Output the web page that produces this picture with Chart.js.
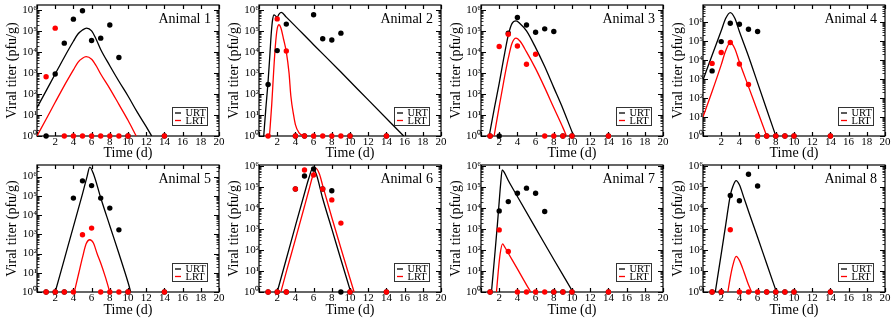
<!DOCTYPE html>
<html>
<head>
<meta charset="utf-8">
<script src="https://cdn.jsdelivr.net/npm/chart.js@4.4.1/dist/chart.umd.min.js"></script>
<style>
  html, body { margin: 0; padding: 0; background: #fff; }
  body { width: 891px; height: 320px; position: relative; overflow: hidden; }
  canvas { position: absolute; }
</style>
</head>
<body>
<script>
// sampling days (same for every animal)
const days = [1, 2, 3, 4, 5, 6, 7, 8, 9, 10, 14];
const yDecades = [0, 1, 2, 3, 4, 5, 6];
const animalNames = ['Animal 1', 'Animal 2', 'Animal 3', 'Animal 4', 'Animal 5', 'Animal 6', 'Animal 7', 'Animal 8'];
const yMaxes = [1.7e6, 1.7e6, 1.7e6, 8e6, 4e6, 1.1e6, 1.1e6, 1.1e6];

// observed titers (pfu/g), 1 = below detection
const urtObs1 = [1, 890, 2.6e4, 3.6e5, 9e5, 3.5e4, 4.5e4, 1.9e5, 5.4e3, 1, 1];
const lrtObs1 = [660, 1.35e5, 1, 1, 1, 1, 1, 1, 1, 1, 1];
const urtObs2 = [280, 1.15e4, 2.1e5, 1, 1, 5.8e5, 4.2e4, 3.7e4, 7.8e4, 1, 1];
const lrtObs2 = [1, 3.7e5, 1.1e4, 1, 1, 1, 1, 1, 1, 1, 1];
const urtObs3 = [1, 1, 7.7e4, 4.3e5, 1.9e5, 8.6e4, 1.25e5, 9.3e4, 1, 1, 1];
const lrtObs3 = [1, 1.8e4, 6.9e4, 1.9e4, 2.6e3, 7.7e3, 1, 1, 1, 1, 1];
const urtObs4 = [2.7e3, 9.4e4, 8.7e5, 7.8e5, 4.2e5, 3.2e5, 1, 1, 1, 1, 1];
const lrtObs4 = [6.7e3, 2.5e4, 8.4e4, 6.2e3, 520, 1, 1, 1, 1, 1, 1];
const urtObs5 = [1, 1, 1, 7.6e4, 6e5, 3.4e5, 7.6e4, 2.3e4, 1.7e3, 1, 1];
const lrtObs5 = [1, 1, 1, 1, 950, 2.1e3, 1, 1, 1, 1, 1];
const urtObs6 = [1, 1, 1, 8e4, 3.3e5, 7.1e5, 8e4, 6.5e4, 1, 1, 1];
const lrtObs6 = [1, 1, 1, 8e4, 6.4e5, 3.7e5, 8e4, 2.4e4, 1.9e3, 1, 1];
const urtObs7 = [1, 7.2e3, 2e4, 5e4, 8.7e4, 5e4, 6.8e3, 1, 1, 1, 1];
const lrtObs7 = [1, 900, 85, 1, 1, 1, 1, 1, 1, 1, 1];
const urtObs8 = [1, 1, 3.9e4, 2.2e4, 4e5, 1.1e5, 1, 1, 1, 1, 1];
const lrtObs8 = [1, 1, 910, 1, 1, 1, 1, 1, 1, 1, 1];

// model fits, [day, titer]
const urtFit1 = [[0,22],[1,140],[2,890],[3,5.6e3],[4,3.2e4],[4.5,7.1e4],[5,1.1e5],[5.45,1.35e5],[6,1.0e5],[6.5,4.0e4],[7,1.3e4],[8,2.2e3],[9,400],[10,80],[11,14],[12,2.8],[12.6,1]];
const lrtFit1 = [[0,1],[1,6.3],[2,40],[3,250],[4,1.4e3],[4.5,3.2e3],[5,5e3],[5.4,5.9e3],[6,4.5e3],[6.5,2.2e3],[7,890],[8,180],[9,32],[10,5.6],[10.9,1]];
const urtFit2 = [[0.52,1],[0.75,20],[1,400],[1.2,7.9e3],[1.35,7.9e4],[1.5,3.5e5],[1.65,5.8e5],[1.85,5e5],[2,4.5e5],[2.2,6.3e5],[2.45,7.6e5],[3,4.5e5],[6,2.2e4],[9,1.1e3],[12,52],[15.9,1]];
const lrtFit2 = [[1.15,1],[1.4,32],[1.6,1e3],[1.8,2e4],[2,1.26e5],[2.2,1.95e5],[2.4,1.4e5],[2.7,4e4],[3,1e4],[3.3,1e3],[3.5,80],[3.8,10],[4,3.5],[4.4,1.4],[5,1]];
const urtFit3 = [[0.9,1],[1.5,25],[2,320],[2.5,5e3],[3,6.3e4],[3.4,2.2e5],[3.85,3e5],[4.3,2.2e5],[5,1e5],[6,1.6e4],[7,2e3],[8,200],[9,20],[10,1.6],[10.2,1]];
const lrtFit3 = [[1.44,1],[2,25],[2.5,400],[3,5e3],[3.4,2.5e4],[3.85,4.5e4],[4.3,3.2e4],[5,1e4],[6,1.6e3],[7,200],[8,22],[9,2.5],[9.4,1]];
const urtFit4 = [[0,890],[1,1.8e4],[2,3.5e5],[2.5,1.6e6],[3,3.2e6],[3.5,1.6e6],[4,3.2e5],[5,1.6e4],[6,630],[7,25],[8,1]];
const lrtFit4 = [[0,10],[1,220],[2,5.6e3],[2.5,3.2e4],[3,8.3e4],[3.5,4e4],[4,7.9e3],[5,400],[6,20],[7,1]];
const urtFit5 = [[2,1],[3,50],[4,2.5e3],[5,1.26e5],[5.5,1e6],[5.8,3.1e6],[6.2,1.4e6],[7,8e4],[8,2.8e3],[9,100],[10,3.2],[10.3,1]];
const lrtFit5 = [[4.1,1],[4.6,10],[5,63],[5.4,320],[5.8,520],[6.2,350],[6.6,100],[7,32],[7.5,6.3],[8,1]];
const urtFit6 = [[2,1],[3,37],[4,1.4e3],[5,5e4],[5.5,2.8e5],[5.9,7.8e5],[6.3,4e5],[7,2.8e4],[8,1e3],[9,35],[10,1.3],[10.08,1]];
const lrtFit6 = [[2.4,1],[3,9],[4,320],[5,1.2e4],[5.5,7.5e4],[5.85,2.8e5],[6.25,7.8e5],[6.65,4e5],[7,1.15e5],[8,3.5e3],[9,120],[10,4.4],[10.45,1]];
const urtFit7 = [[1.15,1],[1.5,50],[1.8,1.6e3],[2,2e4],[2.15,1.26e5],[2.33,6.5e5],[2.6,4.5e5],[3,2e5],[4,3.5e4],[6,1.1e3],[8,35],[10.1,1]];
const lrtFit7 = [[1.7,1],[1.9,10],[2.1,63],[2.37,195],[2.6,140],[3,70],[4,12.6],[5,2.2],[5.47,1]];
const urtFit8 = [[1.35,1],[2,63],[2.5,1.6e3],[3,4e4],[3.3,1.1e5],[3.64,2e5],[4,1.26e5],[4.5,3e4],[5,7e3],[6,400],[7,22],[8.07,1]];
const lrtFit8 = [[2.73,1],[3,5],[3.3,20],[3.64,49],[4,32],[4.5,9],[5,2.2],[5.35,1]];

const panels = [
  { urt: urtObs1, lrt: lrtObs1, urtFit: urtFit1, lrtFit: lrtFit1 },
  { urt: urtObs2, lrt: lrtObs2, urtFit: urtFit2, lrtFit: lrtFit2 },
  { urt: urtObs3, lrt: lrtObs3, urtFit: urtFit3, lrtFit: lrtFit3 },
  { urt: urtObs4, lrt: lrtObs4, urtFit: urtFit4, lrtFit: lrtFit4 },
  { urt: urtObs5, lrt: lrtObs5, urtFit: urtFit5, lrtFit: lrtFit5 },
  { urt: urtObs6, lrt: lrtObs6, urtFit: urtFit6, lrtFit: lrtFit6 },
  { urt: urtObs7, lrt: lrtObs7, urtFit: urtFit7, lrtFit: lrtFit7 },
  { urt: urtObs8, lrt: lrtObs8, urtFit: urtFit8, lrtFit: lrtFit8 }
];

const BLACK = '#000000';
const RED = '#ff0000';
const SERIF = '"Liberation Serif", "Times New Roman", serif';
const SUP = ['\u2070', '\u00b9', '\u00b2', '\u00b3', '\u2074', '\u2075', '\u2076'];

Chart.defaults.font.family = SERIF;
Chart.defaults.color = '#000';

// canvas placement: columns and rows
const colLeft = [0, 222, 444, 666];
const rows = [
  { top: -10, padBottom: 10, xHeight: 24, xPad: 0 },
  { top: 150, padBottom: 13, xHeight: 25, xPad: 0 }
];

// frame, inward ticks, legend box and animal label
const framePlugin = {
  id: 'frame',
  beforeDatasetsDraw(chart) {
    const { ctx, chartArea: a, scales: { x, y } } = chart;
    ctx.save();
    ctx.strokeStyle = '#000';
    ctx.lineWidth = 1.2;
    ctx.strokeRect(a.left, a.top, a.width, a.height);
    ctx.beginPath();
    x.ticks.forEach(t => {
      const px = Math.round(x.getPixelForValue(t.value)) + 0.5;
      ctx.moveTo(px, a.bottom); ctx.lineTo(px, a.bottom - 4);
      ctx.moveTo(px, a.top); ctx.lineTo(px, a.top + 4);
    });
    y.ticks.forEach(t => {
      const py = Math.round(y.getPixelForValue(t.value)) + 0.5;
      ctx.moveTo(a.left, py); ctx.lineTo(a.left + 5, py);
      ctx.moveTo(a.right, py); ctx.lineTo(a.right - 5, py);
    });
    ctx.stroke();
    ctx.lineWidth = 0.8;
    ctx.beginPath();
    yDecades.forEach(n => {
      for (let k = 2; k <= 9; k++) {
        const v = k * Math.pow(10, n);
        if (v >= y.max) continue;
        const py = Math.round(y.getPixelForValue(v)) + 0.5;
        ctx.moveTo(a.left, py); ctx.lineTo(a.left + 2.5, py);
        ctx.moveTo(a.right, py); ctx.lineTo(a.right - 2.5, py);
      }
    });
    ctx.stroke();
    ctx.restore();
  },
  afterDraw(chart, args, opts) {
    const { ctx, chartArea: a } = chart;
    ctx.save();
    // animal label
    ctx.font = '14px ' + SERIF;
    ctx.fillStyle = '#000';
    ctx.textAlign = 'right';
    ctx.textBaseline = 'middle';
    ctx.fillText(opts.label, a.right - 8, a.top + 14);
    // legend
    const bx = a.right - 46.5, by = a.bottom - 28.5;
    ctx.fillStyle = '#fff';
    ctx.fillRect(bx, by, 35, 18);
    ctx.strokeStyle = '#333';
    ctx.lineWidth = 1;
    ctx.strokeRect(bx, by, 35, 18);
    const items = [chart.data.datasets[2], chart.data.datasets[3]];
    ctx.font = '10.5px ' + SERIF;
    ctx.textAlign = 'left';
    items.forEach((ds, i) => {
      const ly = by + 5.5 + i * 7.5;
      ctx.strokeStyle = ds.borderColor;
      ctx.lineWidth = 1.3;
      ctx.beginPath();
      ctx.moveTo(bx + 2.5, ly); ctx.lineTo(bx + 8.5, ly);
      ctx.stroke();
      ctx.fillStyle = '#000';
      ctx.fillText(ds.label, bx + 13, ly + 0.5);
    });
    ctx.restore();
  }
};
Chart.register(framePlugin);

function obsPoints(values) {
  return days.map((d, i) => ({ x: d, y: values[i] }));
}

panels.forEach((p, i) => {
  const row = rows[Math.floor(i / 4)];
  const canvas = document.createElement('canvas');
  canvas.width = 240;
  canvas.height = 180;
  canvas.style.left = colLeft[i % 4] + 'px';
  canvas.style.top = row.top + 'px';
  document.body.appendChild(canvas);

  new Chart(canvas, {
    type: 'line',
    data: {
      datasets: [
        { label: 'LRT obs', data: obsPoints(p.lrt), showLine: false, pointRadius: 2.7, pointBorderWidth: 0,
          pointBackgroundColor: RED, borderColor: RED, clip: false },
        { label: 'URT obs', data: obsPoints(p.urt), showLine: false, pointRadius: 2.7, pointBorderWidth: 0,
          pointBackgroundColor: BLACK, borderColor: BLACK, clip: false },
        { label: 'URT', data: p.urtFit, borderColor: BLACK, borderWidth: 1.3, pointRadius: 0,
          cubicInterpolationMode: 'monotone' },
        { label: 'LRT', data: p.lrtFit, borderColor: RED, borderWidth: 1.3, pointRadius: 0,
          cubicInterpolationMode: 'monotone' }
      ]
    },
    options: {
      responsive: false,
      animation: false,
      devicePixelRatio: 1,
      layout: { padding: { left: 0, right: 21, top: 15, bottom: row.padBottom } },
      plugins: {
        legend: { display: false },
        tooltip: { enabled: false },
        frame: { label: animalNames[i] }
      },
      scales: {
        x: {
          type: 'linear', min: 0, max: 20,
          grid: { display: false, drawTicks: false },
          border: { display: false },
          ticks: { stepSize: 2, autoSkip: false, maxRotation: 0, padding: row.xPad, color: '#000',
                   font: { size: 11 }, callback: v => (v === 0 ? '' : v) },
          title: { display: true, text: 'Time (d)', color: '#000', font: { size: 14, lineHeight: 1 }, padding: 0 },
          afterFit: s => { s.height = row.xHeight; }
        },
        y: {
          type: 'logarithmic', min: 1, max: yMaxes[i],
          grid: { display: false, drawTicks: false },
          border: { display: false },
          afterBuildTicks: s => { s.ticks = yDecades.map(n => ({ value: Math.pow(10, n) })); },
          ticks: { autoSkip: false, padding: 0, color: '#000', font: { size: 11 },
                   callback: v => '10' + SUP[Math.round(Math.log10(v))] },
          title: { display: true, text: 'Viral titer (pfu/g)', color: '#000', font: { size: 14, lineHeight: 1 },
                   padding: { top: 5, bottom: 0 } },
          afterFit: s => { s.width = 37; }
        }
      }
    }
  });
});
</script>
</body>
</html>
